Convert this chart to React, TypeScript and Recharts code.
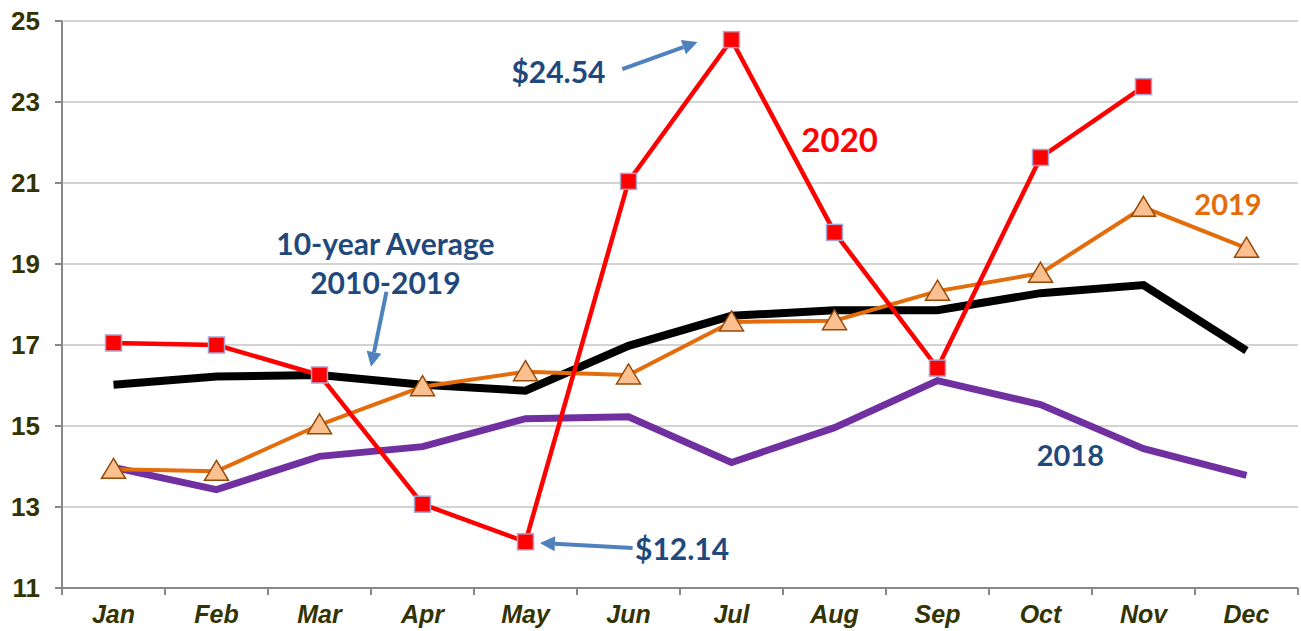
import React from "react";
import {
  CartesianGrid,
  Line,
  LineChart,
  ReferenceDot,
  ReferenceLine,
  XAxis,
  YAxis,
} from "recharts";

const MONTHS = ["Jan", "Feb", "Mar", "Apr", "May", "Jun", "Jul", "Aug", "Sep", "Oct", "Nov", "Dec"];
const AVG_2010_2019 = [16.02, 16.22, 16.26, 16.02, 15.87, 16.98, 17.72, 17.86, 17.86, 18.28, 18.48, 16.86];
const Y2018 = [13.98, 13.43, 14.25, 14.49, 15.18, 15.23, 14.1, 14.96, 16.12, 15.53, 14.44, 13.78];
const Y2019 = [13.93, 13.88, 15.03, 15.97, 16.34, 16.26, 17.57, 17.6, 18.33, 18.77, 20.4, 19.39];
const Y2020 = [17.05, 17.0, 16.26, 13.07, 12.14, 21.04, 24.54, 19.78, 16.43, 21.63, 23.38, null];
const Y_TICKS = [11, 13, 15, 17, 19, 21, 23, 25];
const X_BOUNDS = [0, 1, 2, 3, 4, 5, 6, 7, 8, 9, 10, 11, 12];

// text annotations, in data coordinates (x = month slot, y = value)
const LABELS = [
  { x: 7.55, y: 22.06, text: "2020", color: "#ff0000", size: 33 },
  { x: 11.32, y: 20.46, text: "2019", color: "#e46c0a", size: 29 },
  { x: 9.79, y: 14.26, text: "2018", color: "#1f497d", size: 29 },
  { x: 3.14, y: 19.47, text: "10-year Average", color: "#1f497d", size: 30 },
  { x: 3.14, y: 18.53, text: "2010-2019", color: "#1f497d", size: 30 },
  { x: 4.82, y: 23.74, text: "$24.54", color: "#1f497d", size: 30 },
  { x: 6.02, y: 11.94, text: "$12.14", color: "#1f497d", size: 30 },
];

const ARROWS = [
  { x1: 5.44, y1: 23.81, x2: 6.17, y2: 24.48 },
  { x1: 5.54, y1: 11.99, x2: 4.64, y2: 12.11 },
  { x1: 3.15, y1: 18.31, x2: 3.0, y2: 16.46 },
];

const W = 1301;
const H = 631;
const PLOT_LEFT = 62;
const PLOT_RIGHT = 3;
const BAND = (W - PLOT_LEFT - PLOT_RIGHT) / MONTHS.length;

const data = MONTHS.map((m, i) => ({
  pos: i + 0.5,
  month: m,
  avg: AVG_2010_2019[i],
  y2018: Y2018[i],
  y2019: Y2019[i],
  y2020: Y2020[i],
}));

const MonthTick = (props: any) => {
  const { x, y, payload } = props;
  const idx = payload.value;
  if (idx >= MONTHS.length) return null;
  return (
    <text
      x={x + BAND / 2}
      y={y + 26}
      textAnchor="middle"
      fontFamily="Liberation Sans, Arial, sans-serif"
      fontWeight="bold"
      fontStyle="italic"
      fontSize={25}
      fill="#333300"
    >
      {MONTHS[idx]}
    </text>
  );
};

const ValueTick = (props: any) => {
  const { x, y, payload } = props;
  return (
    <text
      x={x}
      y={y + 9}
      textAnchor="end"
      fontFamily="Liberation Sans, Arial, sans-serif"
      fontWeight="bold"
      fontSize={26}
      fill="#333300"
    >
      {payload.value}
    </text>
  );
};

const SquareDot = (props: any) => {
  const { cx, cy, value } = props;
  if (value == null || cx == null || cy == null) return null;
  return <rect x={cx - 8} y={cy - 8} width={16} height={16} fill="#ff0000" stroke="#a6a6d2" strokeWidth={1.5} />;
};

const TriangleDot = (props: any) => {
  const { cx, cy } = props;
  if (cx == null || cy == null) return null;
  return (
    <polygon
      points={`${cx},${cy - 11} ${cx + 12},${cy + 9} ${cx - 12},${cy + 9}`}
      fill="#fac090"
      stroke="#984807"
      strokeWidth={1.5}
    />
  );
};

const Arrow = (props: any) => {
  const { x1, y1, x2, y2 } = props;
  const dx = x2 - x1;
  const dy = y2 - y1;
  const len = Math.sqrt(dx * dx + dy * dy) || 1;
  const ux = dx / len;
  const uy = dy / len;
  const head = 15;
  const half = 7.5;
  const bx = x2 - ux * head;
  const by = y2 - uy * head;
  return (
    <g>
      <line x1={x1} y1={y1} x2={bx} y2={by} stroke="#4f81bd" strokeWidth={4} />
      <polygon
        points={`${x2},${y2} ${bx - uy * half},${by + ux * half} ${bx + uy * half},${by - ux * half}`}
        fill="#4f81bd"
      />
    </g>
  );
};

export default function App() {
  return (
    <div style={{ position: "absolute", left: 0, top: 0, background: "#fff" }}>
      <LineChart
        width={W}
        height={H}
        data={data}
        margin={{ top: 21, right: PLOT_RIGHT, left: 0, bottom: 0 }}
      >
        <CartesianGrid vertical={false} stroke="#c4c4c4" strokeWidth={1.5} />
        <XAxis
          type="number"
          dataKey="pos"
          domain={[0, 12]}
          ticks={X_BOUNDS}
          interval={0}
          height={43}
          tick={<MonthTick />}
          tickSize={7}
          axisLine={{ stroke: "#888888", strokeWidth: 2 }}
          tickLine={{ stroke: "#888888", strokeWidth: 2 }}
        />
        <YAxis
          type="number"
          domain={[11, 25]}
          ticks={Y_TICKS}
          interval={0}
          width={PLOT_LEFT}
          tick={<ValueTick />}
          tickSize={7}
          tickMargin={15}
          axisLine={{ stroke: "#888888", strokeWidth: 2 }}
          tickLine={{ stroke: "#888888", strokeWidth: 2 }}
        />
        <Line
          dataKey="avg"
          stroke="#000000"
          strokeWidth={8}
          dot={false}
          type="linear"
          isAnimationActive={false}
        />
        <Line
          dataKey="y2018"
          stroke="#7030a0"
          strokeWidth={7}
          dot={false}
          type="linear"
          isAnimationActive={false}
        />
        <Line
          dataKey="y2019"
          stroke="#e46c0a"
          strokeWidth={4}
          dot={<TriangleDot />}
          type="linear"
          isAnimationActive={false}
        />
        <Line
          dataKey="y2020"
          stroke="#ff0000"
          strokeWidth={4.5}
          dot={<SquareDot />}
          type="linear"
          isAnimationActive={false}
        />
        {ARROWS.map((a, i) => (
          <ReferenceLine
            key={`arrow-${i}`}
            segment={[
              { x: a.x1, y: a.y1 },
              { x: a.x2, y: a.y2 },
            ]}
            ifOverflow="visible"
            shape={<Arrow />}
          />
        ))}
        {LABELS.map((l, i) => (
          <ReferenceDot
            key={`label-${i}`}
            x={l.x}
            y={l.y}
            r={0}
            ifOverflow="visible"
            shape={(p: any) => (
              <text
                x={p.cx}
                y={p.cy}
                dy="0.35em"
                textAnchor="middle"
                fontFamily="Lato, 'Open Sans', sans-serif"
                fontWeight="bold"
                fontSize={l.size}
                fill={l.color}
              >
                {l.text}
              </text>
            )}
          />
        ))}
      </LineChart>
    </div>
  );
}
